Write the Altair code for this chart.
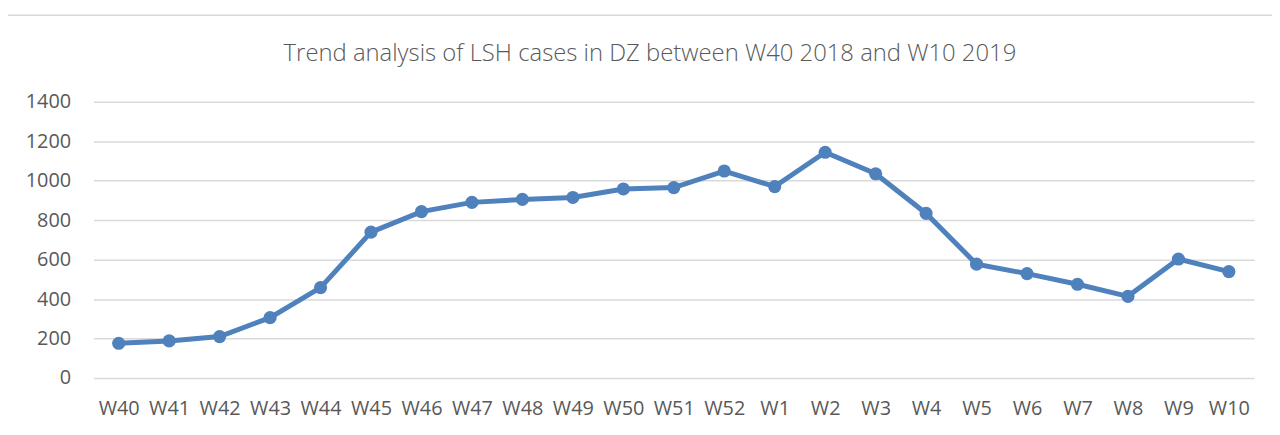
import altair as alt
import pandas as pd

weeks = ["W40", "W41", "W42", "W43", "W44", "W45", "W46", "W47", "W48", "W49", "W50",
         "W51", "W52", "W1", "W2", "W3", "W4", "W5", "W6", "W7", "W8", "W9", "W10"]
cases = [176, 188, 210, 306, 458, 739, 843, 890, 905, 915, 958,
         965, 1049, 970, 1144, 1035, 834, 577, 529, 475, 414, 603, 539]
y_ticks = [0, 200, 400, 600, 800, 1000, 1200, 1400]
title_text = "Trend analysis of LSH cases in DZ between W40 2018 and W10 2019"

df = pd.DataFrame({"week": weeks, "cases": cases})

FONT = "Open Sans"
GRAY = "#595959"
BLUE = "#4F81BD"

x_enc = alt.X("week:N", sort=weeks, title=None, scale=alt.Scale(padding=0.5),
              axis=alt.Axis(labelAngle=0, labelPadding=21, grid=False))
y_enc = alt.Y("cases:Q", title=None, scale=alt.Scale(domain=[0, 1400]),
              axis=alt.Axis(values=y_ticks, format="d", labelPadding=23, grid=True))

line = alt.Chart(df).mark_line(color=BLUE, strokeWidth=5).encode(x=x_enc, y=y_enc)
pts = alt.Chart(df).mark_point(filled=True, color=BLUE, size=175, opacity=1).encode(
    x=x_enc, y=y_enc)

frame = alt.Chart(pd.DataFrame({"a": [0]})).mark_rect(
    fill=None, stroke="#D9D9D9", strokeWidth=1.5).encode(
    x=alt.value(-88), x2=alt.value(1400), y=alt.value(-87), y2=alt.value(500))

title = alt.Chart(pd.DataFrame({"t": [title_text]})).mark_text(
    font=FONT, fontSize=24, fontWeight=300, color=GRAY, align="center",
    baseline="middle").encode(
    text="t:N", x=alt.value(560), y=alt.value(-48))

chart = alt.layer(frame, line, pts, title).properties(
    width=1168, height=278,
    autosize=alt.AutoSizeParams(type="none"),
    padding={"left": 86, "top": 93, "right": 18, "bottom": 56},
).configure_view(stroke=None).configure_axis(
    labelFont=FONT, labelFontSize=20, labelColor=GRAY, ticks=False, domain=False,
    gridColor="#D9D9D9", gridWidth=1.3, labelOverlap=False
)

chart.save("out.html", embed_options={"renderer": "svg", "actions": False})
